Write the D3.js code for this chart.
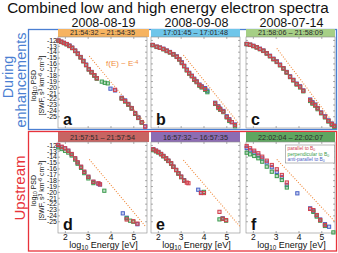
<!DOCTYPE html>
<html>
<head>
<meta charset="utf-8">
<script src="https://cdn.jsdelivr.net/npm/d3@7"></script>
<style>
  body { margin: 0; background: #fff; }
  svg { display: block; font-family: "Liberation Sans", Arial, sans-serif; }
</style>
</head>
<body>
<div id="chart"></div>
<script>
// ---- data (log10 energy [eV], log10 PSD) ----
const title = "Combined low and high energy electron spectra";
const dates = ["2008-08-19", "2008-09-08", "2008-07-14"];
const intervals = ["21:54:32 – 21:54:35", "17:01:45 – 17:01:48", "21:58:06 – 21:58:09",
                   "21:57:51 – 21:57:54", "16:57:32 – 16:57:35", "22:02:04 – 22:02:07"];
const letters = ["a", "b", "c", "d", "e", "f"];
const yTicks = [-12, -13, -14, -15, -16, -17, -18, -19, -20, -21, -22, -23, -24, -25];
const xTicks = [2, 3, 4, 5];

const aE    = [1.72,1.84,1.96,2.08,2.20,2.32,2.45,2.57,2.69,2.81,2.93,3.05,3.17,3.29,3.40,3.62,3.75,3.88,4.00,4.20,4.49,4.64,4.78,4.93,5.08,5.22,5.37,5.52];
const aPar  = [-12.1,-12.3,-12.5,-12.7,-13.0,-13.35,-13.83,-14.35,-14.95,-15.6,-16.27,-17.0,-17.5,-18.0,-18.53,null,null,null,null,-20.5,-21.94,-22.4,-22.97,-23.65,-24.5,-25.25,-26.03,-26.78];
const aPerp = [-12.15,-12.35,-12.55,-12.75,-13.05,-13.4,-13.9,-14.4,-15.0,-15.65,-16.3,-17.05,-17.55,-18.1,-18.6,-19.1,-19.3,-19.4,null,null,-22.0,-22.5,-23.05,-23.7,-24.6,-25.3,-26.1,null];
const aAnti = [-12.1,-12.3,-12.5,-12.7,-12.95,-13.3,-13.8,-14.3,-14.9,-15.55,-16.2,-16.95,-17.45,-18.0,-18.5,null,null,null,-20.3,-20.6,-21.85,-22.3,-22.9,-23.6,-24.45,-25.2,-26.0,-26.7];

const bE    = [1.77,1.95,2.09,2.24,2.39,2.53,2.68,2.83,2.94,3.05,3.15,3.27,3.37,3.49,3.59,3.70,3.82,3.92,4.07,4.17,4.51,4.65,4.73,4.87,5.02,5.13,5.24,5.38];
const bPar  = [-12.86,-13.15,-13.32,-13.54,-13.83,-14.1,-14.45,-14.86,-15.3,-15.88,-16.44,-17.12,-17.68,-18.14,-18.7,-19.1,-19.68,-19.97,-20.36,null,-22.8,-23.4,-23.8,-24.2,-25.1,-25.6,-26.0,-26.5];
const bPerp = [-12.9,-13.2,-13.35,-13.6,-13.9,-14.15,-14.5,-14.9,-15.35,-15.95,-16.5,-17.2,-17.75,-18.2,-18.8,-19.2,-19.8,-20.1,-20.5,-20.9,-22.9,-23.6,-23.9,-24.3,-25.2,-25.8,null,-26.7];
const bAnti = [-12.86,-13.15,-13.3,-13.5,-13.8,-14.05,-14.4,-14.8,-15.25,-15.8,-16.4,-17.05,-17.6,-18.1,-18.6,-19.05,-19.6,-19.9,-20.2,-20.65,-22.7,-23.3,-23.7,-24.1,-25.0,-25.5,-26.0,-26.4];

const cE    = [1.73,1.88,2.02,2.17,2.31,2.46,2.61,2.75,2.90,3.05,3.19,3.34,3.48,3.63,3.77,3.92,4.07,4.21,4.51,4.61,4.73,4.84,4.99,5.16,5.31,5.46,5.57];
const cPar  = [-12.69,-12.81,-13.03,-13.25,-13.54,-13.83,-14.28,-14.74,-15.25,-15.7,-16.27,-16.83,-17.51,-18.26,-18.83,-19.5,-19.97,-20.65,-22.23,-22.7,-23.09,-23.65,-24.4,-25.08,-25.8,-26.32,-26.66];
const cPerp = [-12.72,-12.85,-13.06,-13.3,-13.58,-13.88,-14.33,-14.8,-15.3,-15.76,-16.33,-16.9,-17.58,-18.33,-18.9,-19.6,-20.1,-20.75,-22.4,-22.85,-23.2,-23.8,-24.5,-25.2,-25.9,-26.45,-26.8];
const cAnti = [-12.69,-12.81,-13.0,-13.22,-13.5,-13.8,-14.25,-14.7,-15.2,-15.65,-16.2,-16.8,-17.45,-18.2,-18.8,-19.45,-19.9,-20.6,-22.15,-22.6,-23.0,-23.6,-24.35,-25.0,-25.7,-26.25,-26.6];

const dE    = [1.71,1.86,2.01,2.15,2.30,2.45,2.56,2.71,2.85,3.03,3.25,3.47,3.54,3.73,4.54,4.71,4.86,5.00,5.18];
const dPar  = [-12.0,-12.3,-12.57,-12.98,-13.54,-14.28,-14.96,-15.71,-16.56,-17.41,-18.26,-18.54,-18.71,null,null,-24.7,null,-25.0,-25.4];
const dPerp = [-12.4,-12.7,-13.0,-13.3,-13.8,-14.5,-15.2,-15.9,-16.8,-17.7,-18.5,null,null,-19.8,null,-24.5,-24.9,-25.08,null];
const dAnti = [-12.1,-12.4,-12.6,-13.0,-13.6,-14.3,-15.0,-15.75,-16.6,-17.45,-18.3,-18.6,-18.75,null,-23.65,-24.4,null,null,-25.5];

const eE    = [1.80,1.92,2.02,2.14,2.24,2.36,2.46,2.58,2.68,2.80,2.90,3.02,3.15,3.27,3.34,3.77,3.89,4.02,4.70,4.84,4.99];
const ePar  = [-12.74,-12.98,-13.2,-13.54,-13.88,-14.27,-14.68,-15.12,-15.7,-16.26,-16.82,-17.4,-18.08,-18.42,-18.52,null,-20.19,-20.19,-23.4,-24.56,-24.8];
const ePerp = [-12.9,-13.1,-13.3,-13.6,-13.95,-14.35,-14.75,-15.2,-15.75,-16.3,-16.9,-17.5,-18.1,null,null,null,null,-20.0,-24.68,-24.6,-24.9];
const eAnti = [-12.74,-12.98,-13.2,-13.54,-13.88,-14.27,-14.68,-15.12,-15.7,-16.26,-16.82,-17.4,-18.0,null,null,-19.63,-20.1,null,null,-24.5,null];

const fE    = [1.73,1.88,2.06,2.24,2.41,2.61,2.83,3.05,3.27,3.49,3.95,4.51,4.65,4.80,4.95,5.16,5.34,5.53];
const fPar  = [-12.18,-12.57,-12.98,-13.42,-14.0,-14.68,-15.42,-16.15,-17.12,-18.4,null,-22.9,-23.1,-23.94,-24.79,-25.64,null,null];
const fPerp = [-13.32,-13.6,-13.88,-14.27,-14.85,-15.7,-16.56,-17.3,-17.97,-19.25,null,null,-23.4,-24.2,-24.9,-25.8,null,-26.9];
const fAnti = [-12.5,-12.9,-13.3,-13.8,-14.3,-15.0,-15.8,-16.6,-17.5,-18.83,-20.24,-22.8,-23.2,-24.0,-24.7,-25.5,-25.93,null];

// E^-4 guide lines: [start, end] in (log E, log PSD)
const refLines = [
  [[3.07, -14.74], [5.55, -26.3]],
  [[3.12, -14.57], [5.6, -26.5]],
  [[3.05, -13.43], [5.6, -26.5]],
  [[3.07, -14.45], [5.52, -25.8]],
  [[3.12, -14.6], [5.6, -25.9]],
  [[3.05, -14.45], [5.6, -25.08]]
];

const energies = [aE, bE, cE, dE, eE, fE];
const parallel = [aPar, bPar, cPar, dPar, ePar, fPar];
const perpendicular = [aPerp, bPerp, cPerp, dPerp, ePerp, fPerp];
const antiParallel = [aAnti, bAnti, cAnti, dAnti, eAnti, fAnti];

// ---- layout ----
const width = 338, height = 253;
const colX = [58, 151, 246], pw = 89;
const rowY = [37, 142], ph = 91;
const headY = [[29, 37], [132, 142]];
const headColors = ["#f6b360", "#6fc6ea", "#a6cf86", "#c86462", "#8d6cb3", "#5fa660"];
const seriesColors = ["#d2404d", "#3c9b4e", "#4a62c6"];
const orange = "#f08a3c";

const svg = d3.select("#chart").append("svg")
    .attr("width", width)
    .attr("height", height);

// shrink or grow a text's font so it spans the width
function fitWidth(t, w) {
  const fs = parseFloat(t.style("font-size"));
  const len = t.node().getComputedTextLength();
  if (len > 0) t.style("font-size", (fs * w / len).toFixed(2) + "px");
}

// frames
svg.append("rect").attr("x", 28.5).attr("y", 29.5).attr("width", 308).attr("height", 100)
    .attr("fill", "none").attr("stroke", "#4b7fd2").attr("stroke-width", 1.3);
svg.append("rect").attr("x", 28.5).attr("y", 131.5).attr("width", 308).attr("height", 119.5)
    .attr("fill", "none").attr("stroke", "#e8333b").attr("stroke-width", 1.3);

// title + dates
const tt = svg.append("text").attr("x", 168).attr("y", 12.5).attr("text-anchor", "middle")
    .style("font-size", "14px").attr("fill", "#111").text(title);
fitWidth(tt, 322);
dates.forEach((d, i) => {
  const t = svg.append("text").attr("x", colX[i] + pw / 2 + 1).attr("y", 26.5).attr("text-anchor", "middle")
      .style("font-size", "12.5px").attr("fill", "#111").text(d);
  fitWidth(t, 64);
});

// row labels
svg.append("text").attr("transform", "translate(12.5,77) rotate(-90)").attr("text-anchor", "middle")
    .style("font-size", "14.5px").attr("fill", "#4b7fd2").text("During");
svg.append("text").attr("transform", "translate(26,80) rotate(-90)").attr("text-anchor", "middle")
    .style("font-size", "14.5px").attr("fill", "#4b7fd2").text("enhancements");
svg.append("text").attr("transform", "translate(25,188) rotate(-90)").attr("text-anchor", "middle")
    .style("font-size", "15px").attr("fill", "#e8333b").text("Upstream");

function rich(sel, parts) {
  parts.forEach(p => {
    const t = sel.append("tspan").text(p[0]);
    if (p[1] === "sub") t.attr("baseline-shift", "-25%").style("font-size", "70%");
    if (p[1] === "sup") t.attr("baseline-shift", "40%").style("font-size", "70%");
  });
}

for (let i = 0; i < 6; i++) {
  const col = i % 3, row = Math.floor(i / 3);
  const x0 = colX[col], y0 = rowY[row];

  const x = d3.scaleLinear().domain([1.7, 5.6]).range([x0, x0 + pw]);
  const y = d3.scaleLinear().domain([-11.5, -27]).range([y0, y0 + ph]);

  // header
  svg.append("rect").attr("x", x0).attr("y", headY[row][0]).attr("width", pw + (col === 0 ? 2 : 0))
      .attr("height", headY[row][1] - headY[row][0]).attr("fill", headColors[i]);
  const ht = svg.append("text").attr("x", x0 + pw / 2).attr("y", headY[row][1] - (row === 0 ? 1.8 : 2.5))
      .attr("text-anchor", "middle").style("font-size", "7px")
      .attr("fill", "#2a2a2a").text(intervals[i]);
  fitWidth(ht, 65);

  const g = svg.append("g");
  g.append("rect").attr("x", x0).attr("y", y0).attr("width", pw).attr("height", ph)
      .attr("fill", "#fff").attr("stroke", "#8a8a8a").attr("stroke-width", 0.6);

  const left = g.append("g").attr("transform", `translate(${x0},0)`)
      .call(d3.axisLeft(y).tickValues(yTicks).tickSize(-2).tickPadding(1)
        .tickFormat(col === 0 ? (d => String(d)) : ""));
  const right = g.append("g").attr("transform", `translate(${x0 + pw},0)`)
      .call(d3.axisRight(y).tickValues(yTicks).tickSize(-2).tickFormat(""));
  const bottom = g.append("g").attr("transform", `translate(0,${y0 + ph})`)
      .call(d3.axisBottom(x).tickValues(xTicks).tickSize(-2).tickPadding(0.5)
        .tickFormat(row === 1 ? (d => String(d)) : ""));
  const top = g.append("g").attr("transform", `translate(0,${y0})`)
      .call(d3.axisTop(x).tickValues(xTicks).tickSize(-2).tickFormat(""));
  [left, right, bottom, top].forEach(a => {
    a.select(".domain").remove();
    a.selectAll("line").attr("stroke", "#777").attr("stroke-width", 0.6);
    a.selectAll("text").attr("fill", "#111").style("font-family", "Liberation Sans, Arial, sans-serif");
  });
  left.selectAll("text").style("font-size", "7px");
  bottom.selectAll("text").style("font-size", "8.5px");

  // guide line
  g.append("path")
      .datum(refLines[i])
      .attr("d", d3.line().x(d => x(d[0])).y(d => y(d[1])))
      .attr("fill", "none").attr("stroke", orange).attr("stroke-width", 1.1)
      .attr("stroke-dasharray", "1,1.6");

  // spectra: anti-parallel first, parallel on top
  [[antiParallel[i], 2], [perpendicular[i], 1], [parallel[i], 0]].forEach(([vals, s]) => {
    const pts = energies[i].map((e, k) => [e, vals[k]]).filter(d => d[1] !== null);
    g.selectAll(null).data(pts).join("rect")
        .attr("x", d => x(d[0]) - 1.6)
        .attr("y", d => y(d[1]) - 1.6)
        .attr("width", 3.2).attr("height", 3.2)
        .attr("fill", seriesColors[s])
        .attr("fill-opacity", 0.3)
        .attr("stroke", seriesColors[s])
        .attr("stroke-width", 1);
  });

  // panel letter
  g.append("text").attr("x", x0 + 5).attr("y", y0 + ph - 3)
      .style("font-size", "16px").style("font-weight", "bold").attr("fill", "#111").text(letters[i]);

  // x label on bottom row
  if (row === 1) {
    const t = svg.append("text").attr("x", x0 + pw / 2 + 1).attr("y", 248).attr("text-anchor", "middle")
        .style("font-size", "9px").attr("fill", "#111");
    rich(t, [["log"], ["10", "sub"], [" Energy [eV]"]]);
  }
  // y label on first column
  if (col === 0) {
    const cy = y0 + ph / 2 + 3;
    const t1 = svg.append("text").attr("transform", `translate(36,${cy}) rotate(-90)`)
        .attr("text-anchor", "middle").style("font-size", "7px").attr("fill", "#111");
    rich(t1, [["log"], ["10", "sub"], [" PSD"]]);
    const t2 = svg.append("text").attr("transform", `translate(43.5,${cy}) rotate(-90)`)
        .attr("text-anchor", "middle").style("font-size", "7px").attr("fill", "#111");
    rich(t2, [["[SWF, s"], ["3", "sup"], [" km"], ["-6", "sup"], [" cm"], ["-3", "sup"], ["]"]]);
  }
}

// E^-4 annotation in panel a
const ann = svg.append("text").attr("x", 106).attr("y", 65.5)
    .style("font-size", "8px").attr("fill", orange);
rich(ann, [["f(E) ~ E"], ["-4", "sup"]]);

// legend in panel f
const lg = svg.append("g");
lg.append("rect").attr("x", 285.5).attr("y", 145).attr("width", 49).attr("height", 18)
    .attr("fill", "#fff").attr("stroke", "#888").attr("stroke-width", 0.6);
const legendNames = ["parallel to ", "perpendicular to ", "anti-parallel to "];
legendNames.forEach((n, k) => {
  const t = lg.append("text").attr("x", 287.5).attr("y", 150 + k * 5.7)
      .style("font-size", "4.9px").attr("fill", seriesColors[k]);
  rich(t, [[n], ["B"], ["0", "sub"]]);
});
</script>
</body>
</html>
